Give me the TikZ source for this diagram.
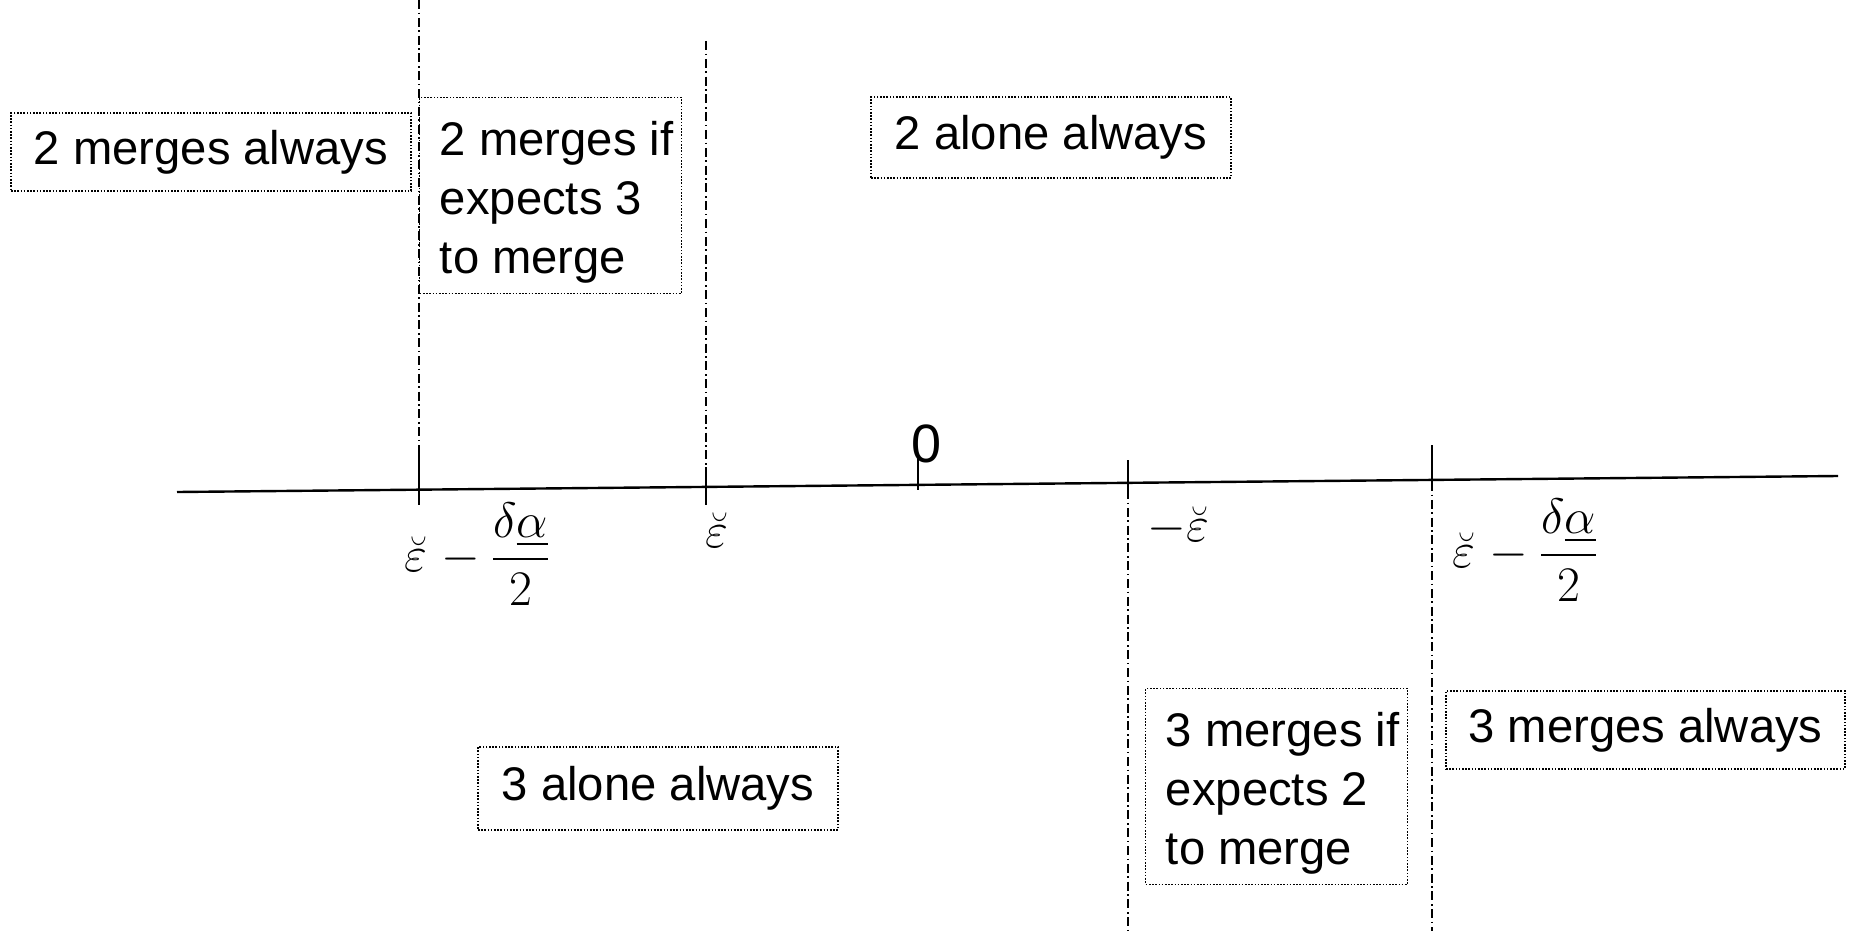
\documentclass[tikz,border=0pt]{standalone}
\usepackage{amsmath}
\usepackage[no-math]{fontspec}
\setmainfont{Liberation Sans}
\newcommand{\beps}{\mathord{\hbox{\ooalign{$\varepsilon$\cr\kern0.06em$\breve{\phantom{\varepsilon}}$\cr}}}}
\newcommand{\ind}{\hspace*{6pt}}
\newcommand{\topstrut}{\rule{0pt}{29pt}}
\newcommand{\botstrut}{\rule[-9.75pt]{0pt}{0pt}}
\begin{document}
\begin{tikzpicture}[x=1pt,y=-1pt,
  box/.style={draw, line width=0.7pt, dash pattern=on 0.8pt off 0.8pt, inner sep=0pt,
    font=\fontsize{23.6}{29.5}\selectfont},
  tallbox/.style={box, anchor=north west, inner xsep=3.5pt, inner ysep=0pt, align=left, minimum width=131pt},
  axisline/.style={line width=1.2pt},
  tickline/.style={line width=1pt},
  guide/.style={line width=0.7pt, dash pattern=on 4.5pt off 1.8pt on 0.8pt off 1.8pt},
  lbl/.style={inner sep=0pt, font=\fontsize{24}{28}\selectfont},
  zerolbl/.style={inner sep=0pt, font=\fontsize{27}{30}\selectfont}]
\useasboundingbox (0,0) rectangle (925.5,465.5);

% axis
\coordinate (axL) at (88.5,246);
\coordinate (axR) at (919,238);
\draw[axisline] (axL) -- (axR);

% tick A
\coordinate (aTop) at (209.5,0);
\coordinate (aMid) at (209.5,223);
\coordinate (aBot) at (209.5,252.5);
\draw[guide] (aTop) -- (aMid);
\draw[tickline] (aMid) -- (aBot);

% tick B
\coordinate (bTop) at (353,20.5);
\coordinate (bMid) at (353,233.5);
\coordinate (bBot) at (353,252.5);
\draw[guide] (bTop) -- (bMid);
\draw[tickline] (bMid) -- (bBot);

% tick 0
\coordinate (zTop) at (459,229);
\coordinate (zBot) at (459,245);
\draw[tickline] (zTop) -- (zBot);
\node[zerolbl] (zero) at (463.5,222) {0};

% tick C
\coordinate (cTop) at (564,230);
\coordinate (cMid) at (564,245);
\coordinate (cBot) at (564,465.5);
\draw[tickline] (cTop) -- (cMid);
\draw[guide] (cMid) -- (cBot);

% tick D
\coordinate (dTop) at (716,222.5);
\coordinate (dMid) at (716,241);
\coordinate (dBot) at (716,465.5);
\draw[tickline] (dTop) -- (dMid);
\draw[guide] (dMid) -- (dBot);

% math labels
\node[lbl, anchor=west] (la) at (202,277) {$\beps-\dfrac{\delta\underline{\alpha}}{2}$};
\node[lbl] (lb) at (359,268.5) {$\beps$};
\node[lbl, anchor=west] (lc) at (573.5,264.5) {$-\beps$};
\node[lbl, anchor=west] (ld) at (726,275) {$\beps-\dfrac{\delta\underline{\alpha}}{2}$};

% boxes
\node[box, minimum width=200pt, minimum height=39pt] (b1) at (105.5,76) {2 merges always};
\node[tallbox] (b2) at (209.5,48.5) {\ind\topstrut 2 merges if\\\ind expects 3\\\ind\botstrut to merge};
\node[box, minimum width=180pt, minimum height=40.5pt] (b3) at (525.5,68.75) {2 alone always};
\node[box, minimum width=180pt, minimum height=41.5pt] (b4) at (329,394.25) {3 alone always};
\node[tallbox] (b5) at (572.5,344) {\ind\topstrut 3 merges if\\\ind expects 2\\\ind\botstrut to merge};
\node[box, minimum width=199.5pt, minimum height=39pt] (b6) at (822.75,365) {3 merges always};
\end{tikzpicture}
\end{document}
